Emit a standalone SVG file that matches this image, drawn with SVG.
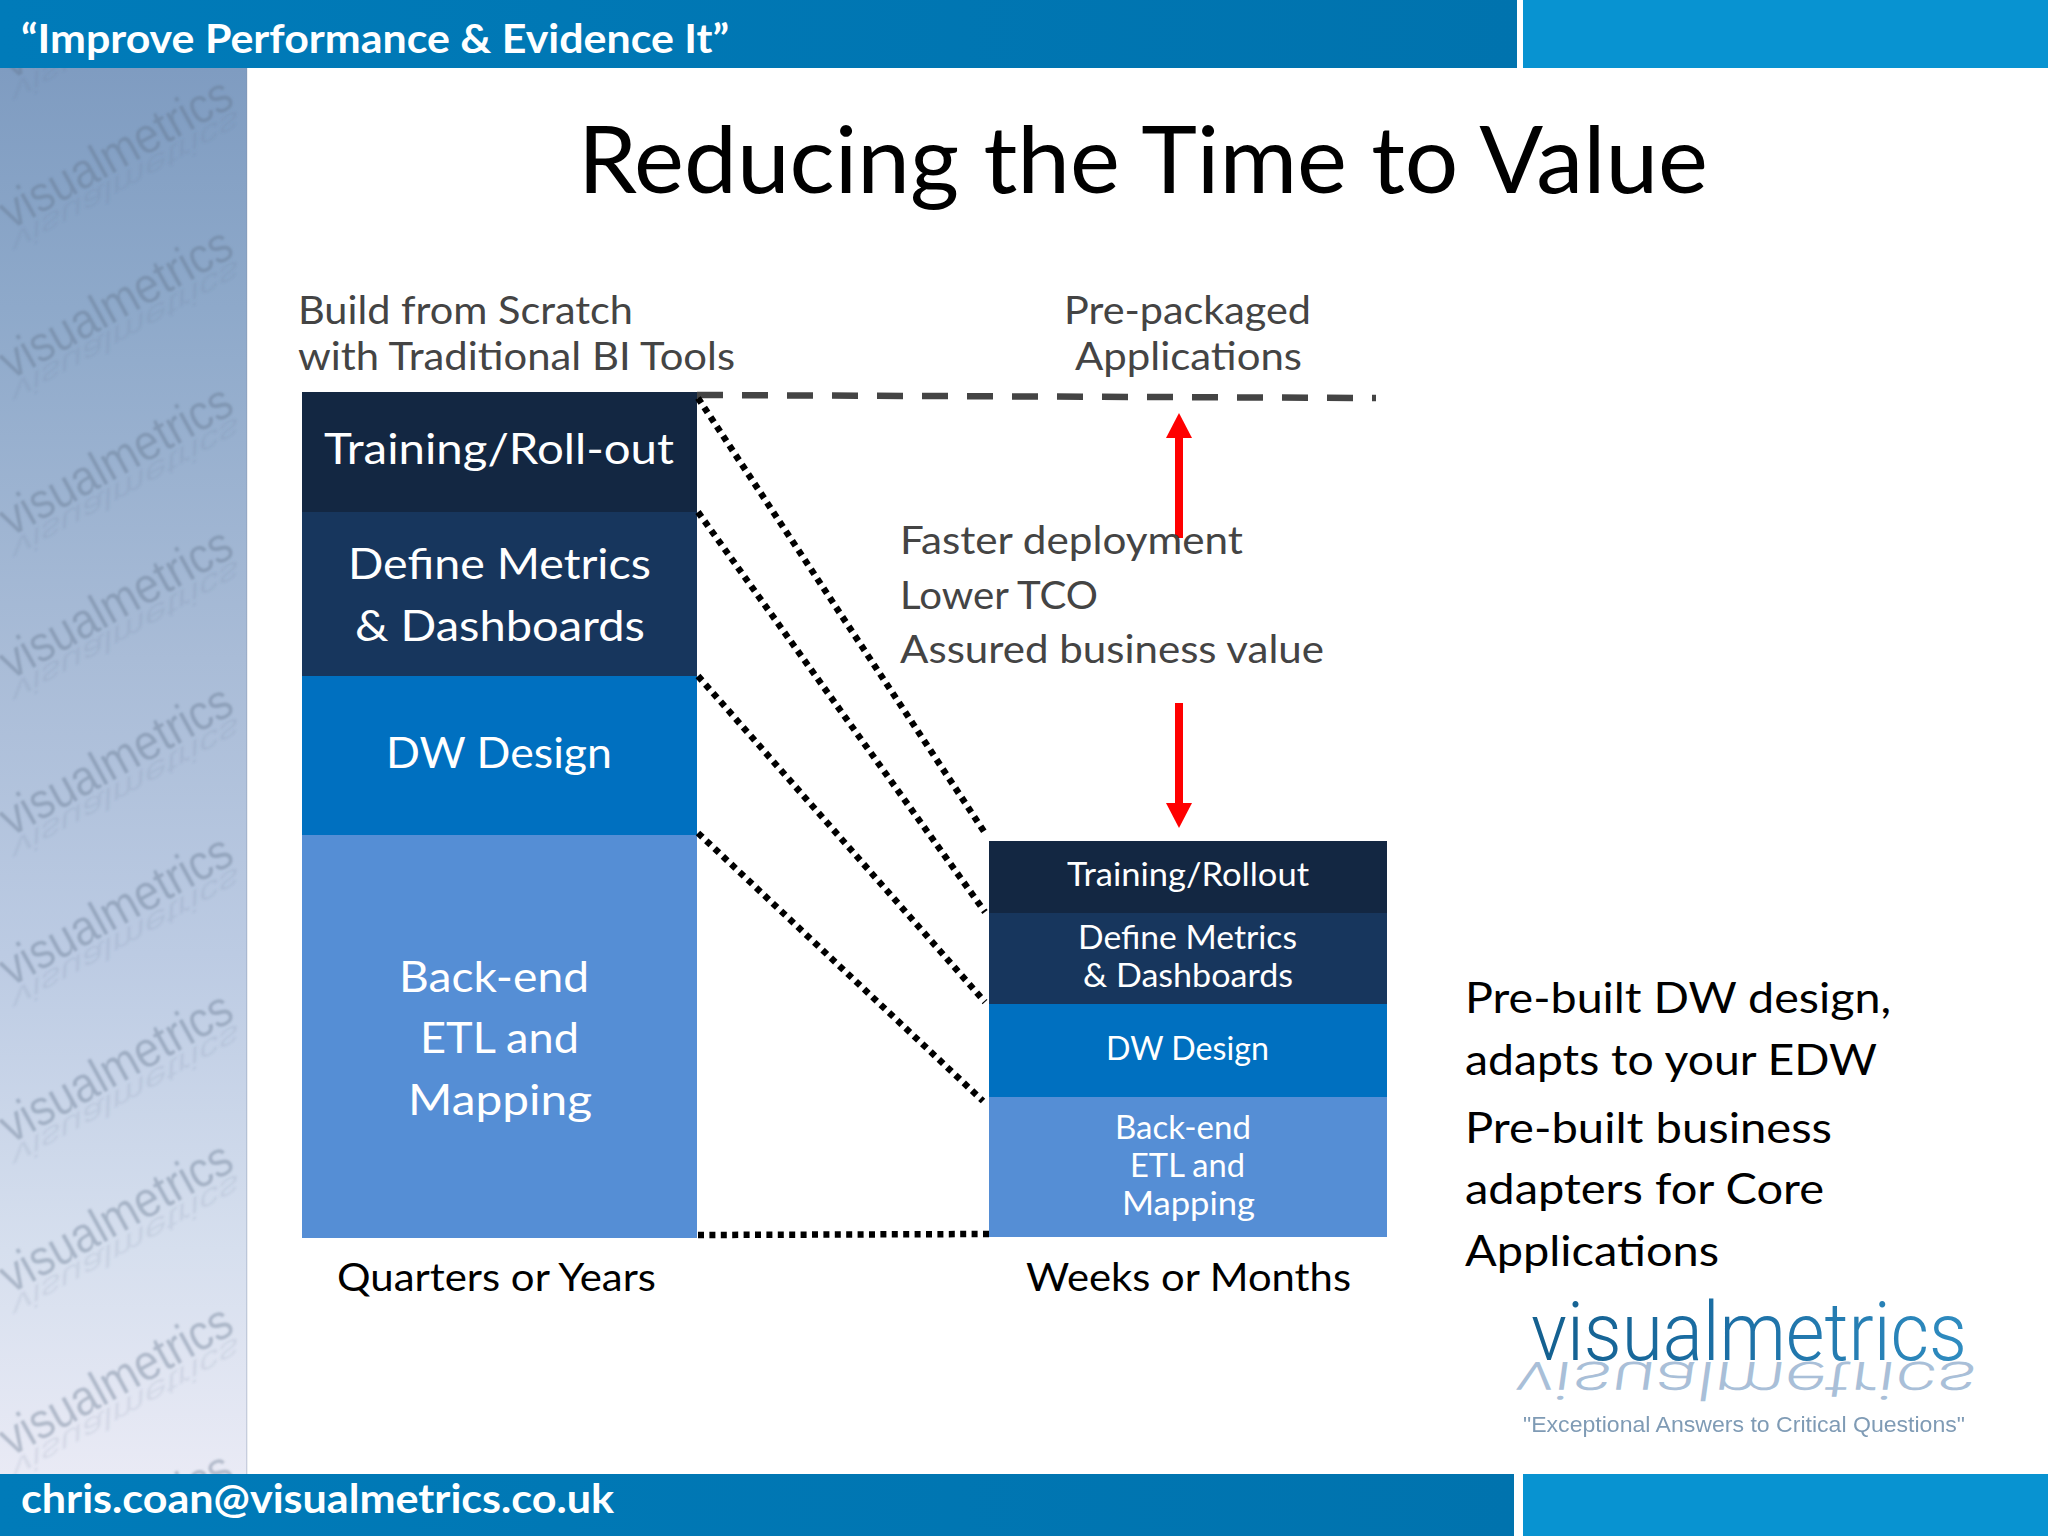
<svg xmlns="http://www.w3.org/2000/svg" xmlns:xlink="http://www.w3.org/1999/xlink" width="2048" height="1536" viewBox="0 0 2048 1536">
<defs>
<linearGradient id="side" x1="0" y1="0" x2="0" y2="1">
<stop offset="0" stop-color="#7f9cc1"/><stop offset="0.17" stop-color="#8ea9ca"/><stop offset="0.42" stop-color="#a9bcd7"/><stop offset="0.63" stop-color="#bccbe3"/><stop offset="0.84" stop-color="#d6dfee"/><stop offset="1" stop-color="#e9eaf5"/>
</linearGradient>
<linearGradient id="barDark" x1="0" y1="0" x2="1" y2="0">
<stop offset="0" stop-color="#007bb9"/><stop offset="1" stop-color="#0073ae"/>
</linearGradient>
<linearGradient id="logoFill" x1="0" y1="0" x2="1" y2="0">
<stop offset="0" stop-color="#14608f"/><stop offset="0.45" stop-color="#1c6fa5"/><stop offset="1" stop-color="#2f8cc0"/>
</linearGradient>
<clipPath id="sideClip"><rect x="0" y="68" width="247" height="1406"/></clipPath>
<filter id="soft" x="-5%" y="-5%" width="110%" height="110%"><feGaussianBlur stdDeviation="0.8"/></filter>
<filter id="soft2" x="-5%" y="-20%" width="110%" height="140%"><feGaussianBlur stdDeviation="0.45"/></filter>
<marker id="redHead" markerUnits="userSpaceOnUse" markerWidth="26" markerHeight="26" refX="0" refY="13" orient="auto"><path d="M0 0L25 13L0 26Z" fill="#ff0000"/></marker>
<g id="wm">
<text class="wm" x="0" y="0" textLength="258" lengthAdjust="spacingAndGlyphs">visualmetrics</text>
<text class="wm wr" transform="matrix(1 0 0.33 -0.55 0 4)" x="0" y="0" textLength="258" lengthAdjust="spacingAndGlyphs">visualmetrics</text>
</g>
</defs>
<style>
text{font-family:"Lato","Liberation Sans",sans-serif}
.hd{font-weight:700;font-size:40px;fill:#fff}
.w{fill:#fff}
.l1{font-size:43px}
.l2{font-size:32px}
.g{font-size:39px;fill:#444}
.k{font-size:39px;fill:#000}
.r{font-size:42px;fill:#000}
.wm{font-family:"Liberation Sans",sans-serif;font-size:50px;fill:#5e7089;fill-opacity:.38}
.wr{fill-opacity:.11}
.dot{fill:none;stroke:#000;stroke-width:6.5;stroke-dasharray:6 5.4}
.dash{fill:none;stroke:#444;stroke-width:6.5;stroke-dasharray:26 19}
.red{fill:none;stroke:#f00;stroke-width:8}
.lg{font-family:"Roboto","Liberation Sans",sans-serif;font-weight:300}
</style>
<rect width="2048" height="1536" fill="#fff"/>
<g id="sidebar">
<rect x="0" y="68" width="247" height="1406" fill="url(#side)"/>
<rect x="246" y="68" width="1.5" height="1406" fill="#7f8fa8" opacity=".3"/>
<g clip-path="url(#sideClip)">
<g filter="url(#soft)">
<use xlink:href="#wm" href="#wm" transform="translate(11,80) rotate(-29)"/>
<use xlink:href="#wm" href="#wm" transform="translate(11,230) rotate(-29)"/>
<use xlink:href="#wm" href="#wm" transform="translate(11,380) rotate(-29)"/>
<use xlink:href="#wm" href="#wm" transform="translate(11,537) rotate(-29)"/>
<use xlink:href="#wm" href="#wm" transform="translate(11,680) rotate(-29)"/>
<use xlink:href="#wm" href="#wm" transform="translate(11,837) rotate(-29)"/>
<use xlink:href="#wm" href="#wm" transform="translate(11,987) rotate(-29)"/>
<use xlink:href="#wm" href="#wm" transform="translate(11,1144) rotate(-29)"/>
<use xlink:href="#wm" href="#wm" transform="translate(11,1294) rotate(-29)"/>
<use xlink:href="#wm" href="#wm" transform="translate(11,1457) rotate(-29)"/>
<use xlink:href="#wm" href="#wm" transform="translate(11,1604) rotate(-29)"/>
</g>
</g>
</g>
<g id="header">
<rect x="0" y="0" width="1517" height="68" fill="url(#barDark)"/>
<rect x="1523" y="0" width="525" height="68" fill="#0893d1"/>
<text class="hd" x="21" y="52.5" textLength="708" lengthAdjust="spacingAndGlyphs">“Improve Performance &amp; Evidence It”</text>
</g>
<g id="footer">
<rect x="0" y="1474" width="1514" height="62" fill="url(#barDark)"/>
<rect x="1523" y="1474" width="525" height="62" fill="#0893d1"/>
<text class="hd" x="21" y="1513" textLength="593" lengthAdjust="spacingAndGlyphs">chris.coan@visualmetrics.co.uk</text>
</g>
<g id="title"><text x="578" y="193" font-size="93" fill="#000" textLength="1130" lengthAdjust="spacingAndGlyphs">Reducing the Time to Value</text></g>
<g id="heading-left">
<text class="g" x="298" y="323.5" textLength="335" lengthAdjust="spacingAndGlyphs">Build from Scratch</text>
<text class="g" x="298" y="369.5" textLength="437" lengthAdjust="spacingAndGlyphs">with Traditional BI Tools</text>
</g>
<g id="heading-right">
<text class="g" x="1064" y="323.5" textLength="247" lengthAdjust="spacingAndGlyphs">Pre-packaged</text>
<text class="g" x="1075" y="369.5" textLength="227" lengthAdjust="spacingAndGlyphs">Applications</text>
</g>
<g id="left-training"><rect x="302" y="392" width="395" height="120" fill="#132742"/>
<text class="w l1" x="324" y="464" textLength="350" lengthAdjust="spacingAndGlyphs">Training/Roll-out</text></g>
<g id="left-metrics"><rect x="302" y="512" width="395" height="164" fill="#17365d"/>
<text class="w l1" x="348" y="579" textLength="303" lengthAdjust="spacingAndGlyphs">Define Metrics</text>
<text class="w l1" x="355" y="641" textLength="290" lengthAdjust="spacingAndGlyphs">&amp; Dashboards</text></g>
<g id="left-dw"><rect x="302" y="676" width="395" height="159" fill="#0070c0"/>
<text class="w l1" x="386" y="768" textLength="226" lengthAdjust="spacingAndGlyphs">DW Design</text></g>
<g id="left-etl"><rect x="302" y="835" width="395" height="403" fill="#558ed5"/>
<text class="w l1" x="399" y="992" textLength="190" lengthAdjust="spacingAndGlyphs">Back-end</text>
<text class="w l1" x="420" y="1053" textLength="159" lengthAdjust="spacingAndGlyphs">ETL and</text>
<text class="w l1" x="408" y="1115" textLength="184" lengthAdjust="spacingAndGlyphs">Mapping</text></g>
<g id="right-training"><rect x="989" y="841" width="398" height="72" fill="#132742"/>
<text class="w l2" x="1067" y="886" textLength="242" lengthAdjust="spacingAndGlyphs">Training/Rollout</text></g>
<g id="right-metrics"><rect x="989" y="913" width="398" height="91" fill="#17365d"/>
<text class="w l2" x="1078" y="948.5" textLength="219" lengthAdjust="spacingAndGlyphs">Define Metrics</text>
<text class="w l2" x="1083" y="986.5" textLength="210" lengthAdjust="spacingAndGlyphs">&amp; Dashboards</text></g>
<g id="right-dw"><rect x="989" y="1004" width="398" height="93" fill="#0070c0"/>
<text class="w l2" x="1106" y="1060" textLength="163" lengthAdjust="spacingAndGlyphs">DW Design</text></g>
<g id="right-etl"><rect x="989" y="1097" width="398" height="140" fill="#558ed5"/>
<text class="w l2" x="1115" y="1139" textLength="136" lengthAdjust="spacingAndGlyphs">Back-end</text>
<text class="w l2" x="1130" y="1177" textLength="115" lengthAdjust="spacingAndGlyphs">ETL and</text>
<text class="w l2" x="1122" y="1214.5" textLength="133" lengthAdjust="spacingAndGlyphs">Mapping</text></g>
<g id="connectors">
<path class="dash" d="M697 395L1376 398"/>
<path class="dot" d="M698 398L985 833"/>
<path class="dot" d="M698 512L985 912"/>
<path class="dot" d="M698 676L985 1002"/>
<path class="dot" d="M698 833L983 1101"/>
<path class="dot" d="M698 1235L989 1234"/>
<path class="red" d="M1179 538V438" marker-end="url(#redHead)"/>
<path class="red" d="M1179 703V803" marker-end="url(#redHead)"/>
</g>
<g id="benefits">
<text class="g" x="900" y="554" textLength="343" lengthAdjust="spacingAndGlyphs">Faster deployment</text>
<text class="g" x="900" y="608.5" textLength="198" lengthAdjust="spacingAndGlyphs">Lower TCO</text>
<text class="g" x="900" y="663" textLength="424" lengthAdjust="spacingAndGlyphs">Assured business value</text>
</g>
<g id="axis-labels">
<text class="k" x="337" y="1291" textLength="319" lengthAdjust="spacingAndGlyphs">Quarters or Years</text>
<text class="k" x="1026" y="1291" textLength="325" lengthAdjust="spacingAndGlyphs">Weeks or Months</text>
</g>
<g id="side-notes">
<text class="r" x="1465" y="1013" textLength="426" lengthAdjust="spacingAndGlyphs">Pre-built DW design,</text>
<text class="r" x="1465" y="1075" textLength="412" lengthAdjust="spacingAndGlyphs">adapts to your EDW</text>
<text class="r" x="1465" y="1143" textLength="367" lengthAdjust="spacingAndGlyphs">Pre-built business</text>
<text class="r" x="1465" y="1204" textLength="359" lengthAdjust="spacingAndGlyphs">adapters for Core</text>
<text class="r" x="1465" y="1266" textLength="254" lengthAdjust="spacingAndGlyphs">Applications</text>
</g>
<g id="logo">
<text class="lg" transform="matrix(1 0 0.09 -0.64 0 2232.4)" x="1396" y="1360" font-size="82" fill="#a9bfd8" textLength="460" lengthAdjust="spacingAndGlyphs">visualmetrics</text>
<text class="lg" x="1531" y="1360" font-size="82" fill="url(#logoFill)" textLength="436" lengthAdjust="spacingAndGlyphs">visualmetrics</text>
<text x="1523" y="1432" font-size="22" fill="#7f9bb5" textLength="442" lengthAdjust="spacingAndGlyphs" filter="url(#soft2)" style="font-family:'Liberation Sans',sans-serif">"Exceptional Answers to Critical Questions"</text>
</g>
</svg>
